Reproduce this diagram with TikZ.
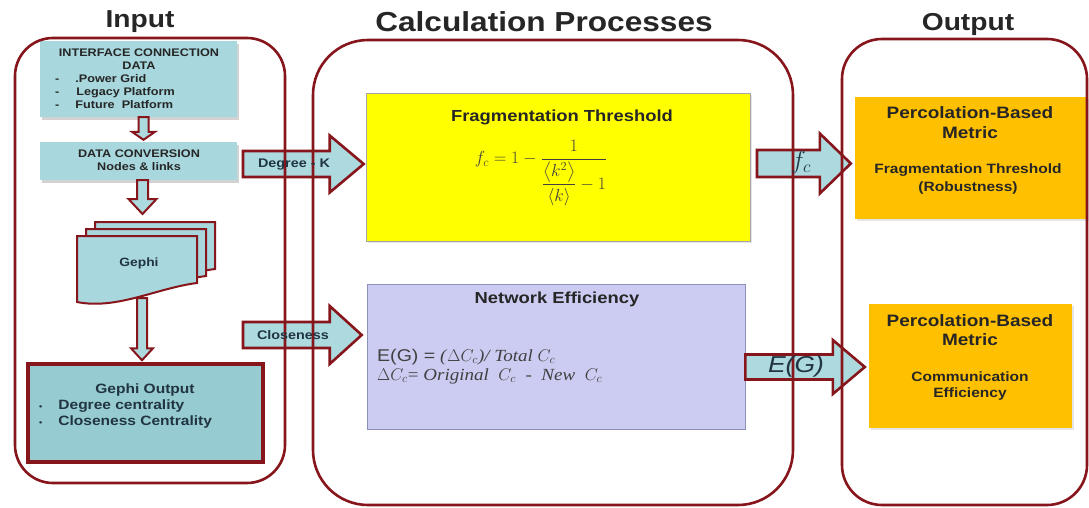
\RequirePackage{fix-cm}
\documentclass[tikz,border=0pt]{standalone}
\usepackage{amsmath}
\usepackage{fontspec}
\setmainfont[FakeStretch=1.12]{Liberation Serif}
\setsansfont[FakeStretch=1.15]{Liberation Sans}
\usetikzlibrary{calc,shadows}

\definecolor{frame}{RGB}{135,22,28}
\definecolor{tealA}{RGB}{168,215,221}
\definecolor{tealB}{RGB}{150,204,209}
\definecolor{arrowfill}{RGB}{172,218,222}
\definecolor{lemon}{RGB}{255,255,0}
\definecolor{lavender}{RGB}{204,204,242}
\definecolor{amber}{RGB}{255,192,0}
\definecolor{ink}{RGB}{38,38,38}
\definecolor{slate}{RGB}{33,52,68}
\definecolor{formulagray}{RGB}{64,64,64}

% horizontal block arrow: tail, tip, shaft half-height, head half-height, head length
\newcommand{\hblock}[5]{\draw[blockarrow] let \p1=(#1), \p2=(#2) in
  (\x1,\y1+#3) -- (\x2-#5,\y1+#3) -- (\x2-#5,\y1+#4) -- (\x2,\y1)
  -- (\x2-#5,\y1-#4) -- (\x2-#5,\y1-#3) -- (\x1,\y1-#3) -- cycle;}
% vertical block arrow: top, tip, shaft half-width, head half-width, head length
\newcommand{\vblock}[5]{\draw[blockarrow, line width=2pt] let \p1=(#1), \p2=(#2) in
  (\x1-#3,\y1) -- (\x1-#3,\y2+#5) -- (\x1-#4,\y2+#5) -- (\x1,\y2)
  -- (\x1+#4,\y2+#5) -- (\x1+#3,\y2+#5) -- (\x1+#3,\y1) -- cycle;}
% one sheet of the stacked-document symbol
\newcommand{\gephisheet}[2]{\draw[sheet, shift={(#1,#2)}] (77,236) -- (197,236) -- (197,283)
  .. controls (157,288) and (117,310) .. (77,302) -- cycle;}

\begin{document}
\begin{tikzpicture}[x=1pt, y=-1pt, font=\sffamily\bfseries, text=ink,
  panel/.style={draw=frame, line width=2.6pt, rounded corners=#1, inner sep=0pt},
  tealbox/.style={fill=tealA, inner sep=0pt,
    drop shadow={opacity=0.35, shadow xshift=2pt, shadow yshift=-3pt}},
  blockarrow/.style={draw=frame, fill=arrowfill, line width=2.6pt, line join=miter},
  sheet/.style={draw=frame, fill=tealA, line width=2pt, line join=miter},
  headline/.style={font=\sffamily\bfseries\fontsize{#1}{#1}\selectfont},
  txt/.style={font=\sffamily\bfseries\fontsize{#1}{#1}\selectfont, inner sep=0pt},
]
\useasboundingbox[fill=white] (0,0) rectangle (1089,508);

% column headings
\node[headline=24.5] (h-in) at (140,22) {Input};
\node[headline=27.5] (h-calc) at (544,22) {Calculation Processes};
\node[headline=24.5] (h-out) at (968,24) {Output};

% input column boxes
\node[tealbox, minimum width=197pt, minimum height=76pt] (iface) at (138.5,79) {};
\node[tealbox, minimum width=197pt, minimum height=38pt] (conv) at (138.5,161) {};
\node[draw=frame, line width=3.5pt, fill=tealB, minimum width=235pt, minimum height=98pt,
      inner sep=0pt] (gout) at (145.5,413) {};

% calculation boxes
\node[fill=lemon, draw=black!35, line width=0.6pt, minimum width=384pt, minimum height=148pt,
      inner sep=0pt, drop shadow={opacity=0.2, shadow xshift=2pt, shadow yshift=-2pt}] (frag) at (558,167) {};
\node[fill=lavender, draw={rgb,255:red,140;green,145;blue,185}, line width=0.6pt,
      minimum width=378pt, minimum height=145pt, inner sep=0pt] (neteff) at (556,356.5) {};

% output boxes
\node[fill=amber, minimum width=232pt, minimum height=122pt, inner sep=0pt,
      drop shadow={opacity=0.2, shadow xshift=2pt, shadow yshift=-2pt}] (pm1) at (971,158) {};
\node[fill=amber, minimum width=203pt, minimum height=124pt, inner sep=0pt,
      drop shadow={opacity=0.2, shadow xshift=2pt, shadow yshift=-2pt}] (pm2) at (970.5,366) {};

% horizontal block arrows between the columns
\coordinate (dk-tail) at (243,164);
\coordinate (cl-tail) at (243,335);
\coordinate (fc-tail) at (757,163.5);
\coordinate (eg-tail) at ($(neteff.east)+(0,10.5)$);
\hblock{dk-tail}{[xshift=-2pt]frag.west}{13pt}{28.5pt}{34pt}
\hblock{cl-tail}{[xshift=-5pt]neteff.west}{13pt}{29pt}{32pt}
\hblock{fc-tail}{[xshift=-4pt]pm1.west}{13.5pt}{30pt}{31pt}
\hblock{eg-tail}{[xshift=-4pt]pm2.west}{12.5pt}{27pt}{32pt}

% rounded panels of the three columns
\node[panel=38pt, minimum width=270pt, minimum height=445pt] (p-in) at (150,260.5) {};
\node[panel=55pt, minimum width=480pt, minimum height=465pt] (p-calc) at (553,272.5) {};
\node[panel=40pt, minimum width=245pt, minimum height=466pt] (p-out) at (964.5,272) {};

% stacked Gephi documents
\gephisheet{18}{-14}
\gephisheet{9}{-7}
\gephisheet{0}{0}
\node[txt=12, text=slate] (gephi) at (139,263) {Gephi};

% vertical arrows of the input column
\coordinate (a1-top) at ([xshift=5pt]iface.south);
\coordinate (a1-tip) at ([xshift=5pt,yshift=2pt]conv.north);
\coordinate (a2-top) at ([xshift=4pt]conv.south);
\coordinate (a2-tip) at (142.5,214);
\coordinate (a3-top) at (142,298);
\coordinate (a3-tip) at ([xshift=-3.5pt,yshift=2pt]gout.north);
\vblock{a1-top}{a1-tip}{5pt}{11.5pt}{8pt}
\vblock{a2-top}{a2-tip}{5.5pt}{14pt}{15pt}
\vblock{a3-top}{a3-tip}{5pt}{11pt}{12pt}

% input texts
\node[txt=11, align=center, font=\sffamily\bfseries\fontsize{11}{13.3}\selectfont]
  (iface-title) at (139,59.5) {INTERFACE CONNECTION\\DATA};
\node[txt=11, anchor=west, font=\sffamily\bfseries\fontsize{11}{13.3}\selectfont]
  (iface-list) at (55,93) {\begin{tabular}{@{}l@{\hspace{16pt}}l@{}}
    - & .Power Grid\\
    - & \hspace{1pt}Legacy Platform\\
    - & Future\ \ Platform
  \end{tabular}};
\node[txt=11, align=center, font=\sffamily\bfseries\fontsize{11}{13}\selectfont]
  (conv-text) at (139,160.5) {DATA CONVERSION\\Nodes \& links};
\node[txt=13.5, text=slate] (gout-title) at (145,390) {Gephi Output};
\node[txt=13.5, text=slate, anchor=west, font=\sffamily\bfseries\fontsize{13.5}{16}\selectfont]
  (gout-list) at (39,414) {\begin{tabular}{@{}l@{\hspace{16pt}}l@{}}
    {\fontsize{8}{8}\selectfont\textbullet} & Degree centrality\\
    {\fontsize{8}{8}\selectfont\textbullet} & Closeness Centrality
  \end{tabular}};

% arrow labels
\node[txt=12.5, text=slate] (dk-label) at (294,164.5) {Degree - K};
\node[txt=12.5, text=slate] (cl-label) at (293,335.5) {Closeness};
\node[inner sep=0pt, text=slate, font=\fontsize{25}{25}\selectfont] (fc-label) at (801,162) {$f_c$};
\node[inner sep=0pt, text=slate, font=\sffamily\mdseries\itshape\fontsize{23}{23}\selectfont]
  (eg-label) at (796,367) {E(G)};

% calculation texts
\node[txt=16] (frag-title) at (562,117) {Fragmentation Threshold};
\node[inner sep=0pt, text=formulagray, font=\fontsize{17.5}{20}\selectfont] (frag-eq) at (541,173)
  {$\displaystyle f_c = 1 - \frac{1}{\dfrac{\left\langle k^{2}\right\rangle}{\left\langle k\right\rangle} - 1}$};
\node[txt=16] (ne-title) at (557,299) {Network Efficiency};
\node[inner sep=0pt, anchor=west, align=left, text=formulagray,
      font=\rmfamily\fontsize{17}{19}\selectfont] (ne-eq) at (377,366.5)
  {{\sffamily E(G) =} \textit{(}$\Delta C_{c}$\textit{)/ Total} $C_{c}$\\
   $\Delta C_{c}$= \textit{Original} \ $C_{c}$ \ - \ \textit{New} \ $C_{c}$};

% output texts
\node[txt=16.5, align=center, font=\sffamily\bfseries\fontsize{16.5}{20}\selectfont]
  (pm1-head) at (970,123) {Percolation-Based\\Metric};
\node[txt=13.5, align=center, font=\sffamily\bfseries\fontsize{13.5}{18}\selectfont]
  (pm1-text) at (968,179) {Fragmentation Threshold\\(Robustness)};
\node[txt=16.5, align=center, font=\sffamily\bfseries\fontsize{16.5}{19}\selectfont]
  (pm2-head) at (970,330.5) {Percolation-Based\\Metric};
\node[txt=13.5, align=center, font=\sffamily\bfseries\fontsize{13.5}{16.5}\selectfont]
  (pm2-text) at (970,386) {Communication\\Efficiency};
\end{tikzpicture}
\end{document}
